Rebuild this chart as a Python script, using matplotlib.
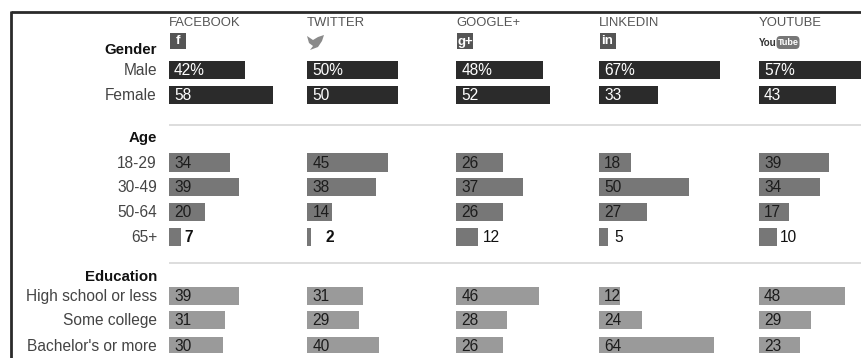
import matplotlib
matplotlib.use("Agg")
import matplotlib.pyplot as plt
from matplotlib.patches import FancyBboxPatch, Polygon, Rectangle

plt.rcParams["font.family"] = ["Liberation Sans", "DejaVu Sans"]

# Survey shares by network (percent)
networks = ["FACEBOOK", "TWITTER", "GOOGLE+", "LINKEDIN", "YOUTUBE"]
male = [42, 50, 48, 67, 57]
female = [58, 50, 52, 33, 43]
age_18_29 = [34, 45, 26, 18, 39]
age_30_49 = [39, 38, 37, 50, 34]
age_50_64 = [20, 14, 26, 27, 17]
age_65_plus = [7, 2, 12, 5, 10]
high_school = [39, 31, 46, 12, 48]
some_college = [31, 29, 28, 24, 29]
bachelors = [30, 40, 26, 64, 23]

row_names = ["Male", "Female", "18-29", "30-49", "50-64", "65+",
             "High school or less", "Some college", "Bachelor's or more"]
row_values = [male, female, age_18_29, age_30_49, age_50_64, age_65_plus,
              high_school, some_college, bachelors]

W, H = 861, 358
DARK, MID, LIGHT = "#2b2b2b", "#777777", "#9a9a9a"
row_y = [70, 95, 162.5, 187, 212, 237, 296, 320, 346]
row_colors = [DARK, DARK, MID, MID, MID, MID, LIGHT, LIGHT, LIGHT]
col_x = [168.5, 307, 456, 598.5, 758.5]
px_per_point = 1.81
bar_h = 18.5
outside_gap = [3, 15, 5, 7, 3]
plot_bottom = 353

fig = plt.figure(figsize=(W / 100, H / 100), dpi=100, facecolor="white")

# Backdrop in pixel coordinates for frame, rules and text
bg = fig.add_axes([0, 0, 1, 1])
bg.set_xlim(0, W)
bg.set_ylim(H, 0)
bg.axis("off")

bg.plot([11, W], [12, 12], color="#2a2a2a", lw=2.0, solid_capstyle="butt")
bg.plot([11, 11], [11, H], color="#2a2a2a", lw=2.0, solid_capstyle="butt")
for rule_y in (125, 263):
    bg.plot([170, W], [rule_y, rule_y], color="#dddddd", lw=1.4)

for label, y in zip(row_names, row_y):
    bg.text(157, y + 0.5, label, ha="right", va="center", fontsize=11.2, color="#444444")
for label, y in (("Gender", 50), ("Age", 138), ("Education", 277)):
    bg.text(157, y, label, ha="right", va="center", fontsize=10.8,
            color="#111111", fontweight="bold")

for name, x in zip(networks, col_x):
    bg.text(x, 22.5, name, ha="left", va="center", fontsize=9.4, color="#555555")

# Network badges under the column headers
for x, glyph in ((col_x[0], "f"), (col_x[2], "g+"), (col_x[3], "in")):
    bg.add_patch(Rectangle((x + 1, 33), 16, 16, color="#555555", lw=0))
    bg.text(x + 9, 41.5, glyph, ha="center", va="center", fontsize=9.5,
            color="white", fontweight="bold")
bird_x = col_x[1]
bg.add_patch(Polygon([(bird_x, 36), (bird_x + 6, 40), (bird_x + 11, 37),
                      (bird_x + 17, 35), (bird_x + 15, 41), (bird_x + 11, 47),
                      (bird_x + 3, 50), (bird_x + 6, 46), (bird_x + 2, 43)],
                     closed=True, color="#8a8a8a", lw=0))
yt_x = col_x[4]
bg.text(yt_x, 42.5, "You", ha="left", va="center", fontsize=7,
        color="#333333", fontweight="bold", stretch="condensed")
bg.add_patch(FancyBboxPatch((yt_x + 18, 36), 23, 13, boxstyle="round,pad=0,rounding_size=4",
                            color="#777777", lw=0))
bg.text(yt_x + 29.5, 42.5, "Tube", ha="center", va="center", fontsize=6.5,
        color="white", fontweight="bold")

# One panel per network: x runs in percent, y in the shared row positions
for c, (name, x0) in enumerate(zip(networks, col_x)):
    panel_w = 100 * px_per_point
    ax = fig.add_axes([x0 / W, 1 - plot_bottom / H, panel_w / W, plot_bottom / H])
    ax.set_xlim(0, 100)
    ax.set_ylim(plot_bottom, 0)
    ax.axis("off")
    ax.patch.set_alpha(0)
    values = [series[c] for series in row_values]
    ax.barh(row_y, values, height=bar_h, color=row_colors, linewidth=0)
    for r, (v, y) in enumerate(zip(values, row_y)):
        text = f"{v}%" if r == 0 else str(v)
        if row_names[r] == "65+":
            ax.annotate(text, (v, y + 0.5), xytext=(outside_gap[c] * 0.72, 0),
                        textcoords="offset points", ha="left", va="center",
                        fontsize=11.2, color="#111111",
                        fontweight="bold" if c < 2 else "normal")
        else:
            ax.annotate(text, (0, y + 0.5), xytext=(4, 0), textcoords="offset points",
                        ha="left", va="center", fontsize=11.2,
                        color="white" if row_colors[r] == DARK else "#1c1c1c",
                        annotation_clip=False)

fig.savefig("out.png", dpi=100, facecolor="white")
